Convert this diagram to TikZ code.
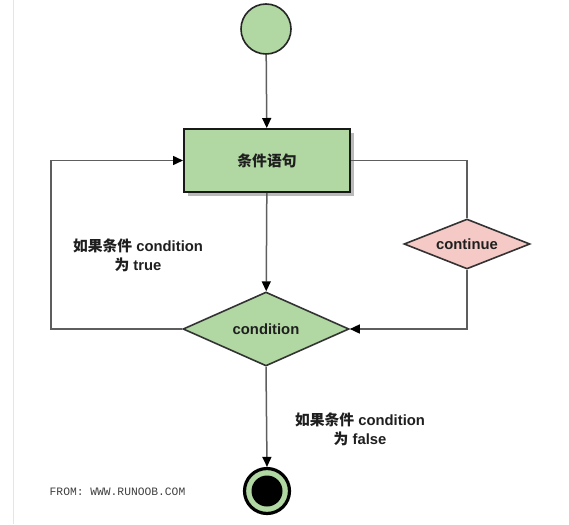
\documentclass[tikz,border=0pt]{standalone}
\usepackage{fontspec}
\setmainfont{Liberation Sans}
\setmonofont{Liberation Mono}
\newfontfamily\cjk{Noto Sans CJK SC}
\usetikzlibrary{shapes.geometric,arrows.meta,shadows,calc}
\definecolor{gfill}{HTML}{B1D8A3}
\definecolor{pfill}{HTML}{F4C9C6}
\definecolor{lgray}{HTML}{5E5E5E}
\tikzset{
  txt/.style={font=\fontsize{14.8}{18.5}\selectfont\bfseries, text=black!88},
  startc/.style={circle, draw=black!85, line width=1.6pt, fill=gfill, minimum size=50pt, inner sep=0pt},
  stepbox/.style={rectangle, draw=black!90, line width=2pt, fill=gfill, minimum width=166pt, minimum height=63pt, txt,
     drop shadow={shadow xshift=4pt, shadow yshift=-4pt, fill=black!45, opacity=0.6}},
  decis/.style={diamond, draw=black!80, line width=1.6pt, aspect=2.3, inner sep=0pt, txt},
  endc/.style={circle, draw=black, line width=3.2pt, fill=gfill, minimum size=45pt, inner sep=0pt},
  conn/.style={draw=lgray, line width=1.5pt},
  arr/.style={conn, -{Triangle[length=10pt,width=9pt,fill=black,color=black]}},
  lbl/.style={txt, align=center},
}
\begin{document}
\begin{tikzpicture}[x=1pt,y=-1pt]
\useasboundingbox (0,0) rectangle (569,524);
\fill[white] (0,0) rectangle (569,524);
\draw[black!10, line width=1pt] (13,0) -- (13,524);

\node[startc] (start) at (266,29) {};
\node[stepbox] (box) at (267,160.5) {{\cjk\bfseries 条件语句}};
\node[decis, fill=gfill, minimum width=166pt, minimum height=74pt] (cond) at (266,329) {condition};
\node[decis, fill=pfill, minimum width=126pt, minimum height=50pt] (cont) at (467,244) {continue};
\node[endc] (end) at (267,491) {};
\fill[black] (end.center) circle (15.5);

\coordinate (lt) at (51,329);

\draw[arr] (start) -- (box);
\draw[arr] (box) -- (cond);
\draw[arr] (cond.west) -- (lt) |- (box.west);
\draw[conn] (box.east) -| (cont.north);
\draw[arr] (cont.south) |- (cond.east);
\draw[arr] (cond.south) -- (end.north);

\node[lbl] (ltrue) at (138,255.5) {{\cjk\bfseries 如果条件} condition\\{\cjk\bfseries 为} true};
\node[lbl] (lfalse) at (360,429.5) {{\cjk\bfseries 如果条件} condition\\{\cjk\bfseries 为} false};
\node[font=\ttfamily\fontsize{11.3}{12}\selectfont, text=black!75] (from) at (117.5,492) {FROM: WWW.RUNOOB.COM};
\end{tikzpicture}
\end{document}
